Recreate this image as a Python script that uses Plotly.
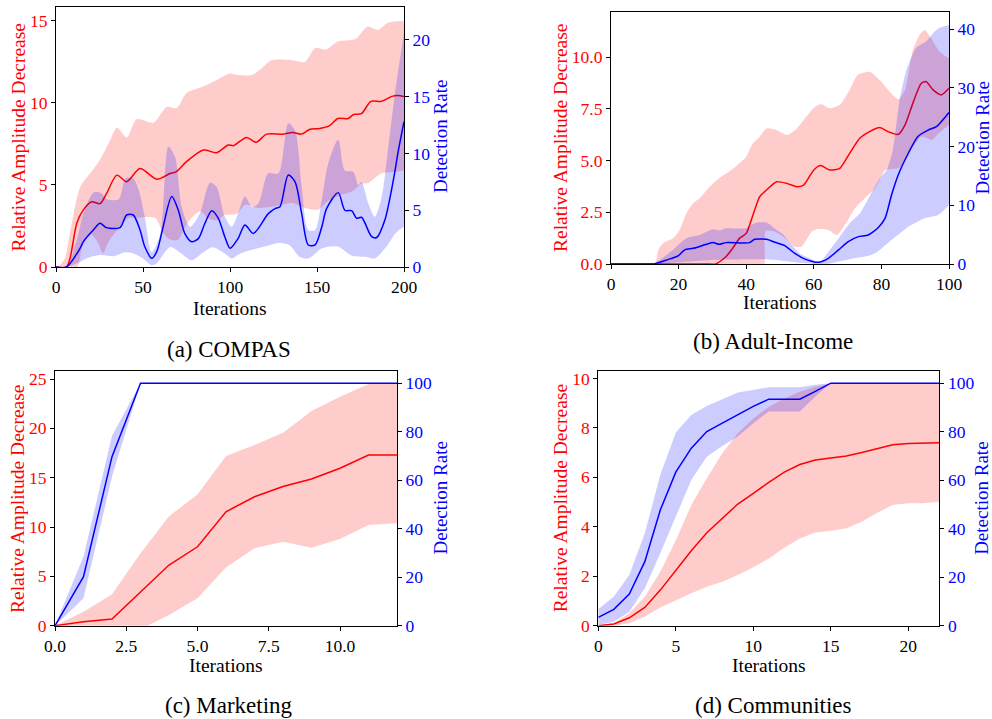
import plotly.graph_objects as go

# ---------------- Panel (a) COMPAS ----------------
a_red_mean_x = [0, 6, 8, 12, 15.7, 20.5, 25.3, 29, 35, 40.6, 48.3, 57.9, 65.5, 69, 75, 84.7, 92.3, 99, 102, 109.5, 115, 121, 130.5, 136, 141, 146, 151.6, 157, 162, 168, 171, 175.5, 181, 187, 193, 196.5, 200]
a_red_mean = [0, 0, 0.5, 2.68, 3.48, 3.98, 3.86, 4.47, 5.6, 5.2, 6.0, 5.35, 5.7, 5.8, 6.42, 7.13, 6.97, 7.44, 7.4, 7.9, 7.6, 8.1, 8.1, 8.2, 8.1, 8.4, 8.45, 8.6, 9.05, 9.05, 9.3, 9.35, 10.1, 10.1, 10.4, 10.45, 10.4]
a_red_up_x = [0, 1, 5, 8, 14, 19.5, 25, 31, 35, 40.6, 46.4, 56, 63.6, 69.5, 75, 84.6, 92.4, 100, 104.6, 112.6, 118, 124, 136, 143, 149, 155, 162, 172, 179, 185, 191, 200]
a_red_up = [0, 0, 0.5, 2.07, 4.9, 5.7, 6.5, 7.7, 8.5, 7.9, 9.0, 8.8, 9.75, 9.7, 10.6, 11.0, 11.4, 11.8, 11.7, 11.7, 12.1, 12.6, 12.6, 12.5, 13.35, 13.25, 13.75, 13.9, 14.65, 14.45, 14.9, 15.0]
a_red_lo_x = [0, 12, 15, 20, 24, 27, 30, 34, 38, 42, 47, 52, 57, 61, 65, 70, 74, 78, 83, 87, 92, 97, 104, 108.6, 116, 126, 135.6, 143, 150.6, 156, 164, 170, 176, 179, 187, 195, 200]
a_red_lo = [0, 0, 1.2, 2.0, 1.5, 0.85, 1.5, 2.1, 2.6, 3.0, 3.0, 3.05, 3.0, 2.2, 1.7, 1.65, 2.4, 3.0, 3.4, 3.0, 2.85, 3.17, 3.25, 3.78, 3.6, 3.7, 3.9, 3.6, 3.5, 4.0, 4.4, 4.6, 5.1, 5.1, 5.7, 5.8, 5.9]
a_blue_mean_x = [0, 6, 13.8, 15.7, 21.5, 25.3, 29, 36.8, 40.6, 44.4, 48.3, 51, 55, 57.9, 61.5, 66.5, 70.3, 74, 78, 81.8, 85.6, 89.5, 93.3, 97, 100, 104.6, 108.6, 113.4, 122, 125.9, 128.7, 133.5, 137.4, 141.2, 145, 148.9, 152.7, 155.5, 162.2, 166, 169.9, 172.8, 175.6, 181.4, 184.3, 189, 193.9, 196.7, 200]
a_blue_mean = [0, 0, 1.64, 2.23, 3.26, 3.85, 3.47, 3.47, 4.58, 4.58, 3.26, 1.8, 0.77, 1.35, 3.5, 6.2, 5.0, 2.97, 2.23, 2.5, 3.85, 4.96, 4.29, 2.67, 1.65, 2.5, 3.7, 2.96, 4.7, 5.14, 5.3, 8.1, 7.5, 4.7, 1.94, 1.94, 3.5, 5.14, 6.55, 5.0, 4.96, 4.29, 4.38, 2.67, 2.6, 4.14, 7.67, 10.2, 12.8]
a_blue_up_x = [0, 6, 11.9, 15.7, 21.5, 26, 29, 36, 40, 44.4, 47.5, 51, 55, 60, 64.6, 68.4, 72.2, 77, 82.6, 88.5, 92.3, 97, 101, 104.6, 108.6, 112.6, 116.3, 122, 127.8, 133.5, 137.4, 141.2, 145, 148.9, 152.7, 156.5, 162.2, 166, 170.9, 173.7, 175.6, 179.5, 183.3, 187.2, 191, 194.8, 200]
a_blue_up = [0, 0, 2.38, 4.7, 6.55, 6.5, 6.0, 5.96, 7.8, 7.8, 6.8, 4.43, 1.3, 2.9, 10.6, 9.7, 5.3, 3.55, 4.7, 7.43, 7.05, 4.43, 3.55, 4.7, 6.2, 5.3, 5.6, 8.25, 8.25, 12.66, 12.0, 7.07, 3.26, 3.26, 5.9, 9.13, 11.2, 8.5, 8.37, 7.2, 7.5, 5.6, 4.43, 6.2, 10.6, 15.3, 20.6]
a_blue_lo_x = [0, 6, 12, 17.6, 25, 33, 39.6, 44.4, 50, 55, 57.8, 65.5, 71, 78, 84.6, 90, 97, 101, 106, 112, 120, 127, 134, 140, 145, 153, 162, 170, 178, 183, 190, 195, 200]
a_blue_lo = [0, 0, 0.3, 0.75, 1.05, 0.95, 1.3, 1.2, 0.75, 0.15, 0.3, 1.75, 1.3, 0.6, 1.3, 1.75, 1.2, 0.75, 1.2, 1.5, 1.8, 2.1, 1.94, 0.9, 0.75, 1.65, 1.8, 1.0, 0.9, 0.75, 1.8, 2.96, 3.55]

# ---------------- Panel (b) Adult-Income ----------------
b_red_mean_x = [0, 10, 20, 28, 31, 34, 36, 38, 40, 42, 44, 46, 49, 52, 55, 57, 60, 62, 64.7, 67.7, 70.6, 73.6, 76.5, 79.5, 82, 85, 87, 89.3, 91.8, 93.3, 95.3, 97.7, 100]
b_red_mean = [0, 0, 0, 0, 0, 0.35, 0.76, 1.24, 1.48, 2.37, 3.26, 3.58, 3.98, 3.9, 3.74, 3.82, 4.55, 4.76, 4.55, 4.63, 5.35, 6.08, 6.4, 6.6, 6.4, 6.27, 6.73, 7.77, 8.74, 8.82, 8.42, 8.18, 8.5]
b_red_up_x = [0, 5, 10, 13, 14, 15.4, 18.3, 20.3, 22.3, 24.3, 26.2, 29.2, 32, 35, 38, 40, 42, 44, 46, 49, 52, 55, 57.8, 60.3, 62.2, 64.7, 67.7, 70.6, 73, 76.5, 79.5, 82, 85, 87, 89.3, 91.3, 92.8, 94.8, 97.2, 100]
b_red_up = [0, 0, 0, 0, 0.68, 1.0, 1.24, 1.65, 2.45, 2.94, 3.18, 3.74, 4.15, 4.47, 4.87, 5.19, 5.84, 6.16, 6.56, 6.48, 6.24, 6.56, 7.13, 7.6, 7.74, 7.53, 7.7, 8.42, 9.15, 9.3, 8.9, 8.42, 7.97, 8.42, 10.35, 11.08, 11.32, 10.9, 10.27, 9.95]
b_red_lo_x = [0, 20, 40, 45, 45.4, 45.8, 48.5, 51.5, 54.4, 56.4, 59.4, 61.3, 64.3, 66.8, 69.2, 72.2, 75.1, 78.1, 81.1, 83, 85, 87, 89, 91.9, 94.9, 96.8, 100]
b_red_lo = [0, 0, 0, 0, 0, 1.6, 1.56, 1.26, 0.84, 0.84, 1.56, 1.69, 1.64, 1.4, 1.89, 2.7, 3.18, 3.66, 4.55, 4.6, 4.63, 4.95, 5.6, 6.16, 6.0, 6.3, 6.72]
b_blue_mean_x = [0, 6, 10, 12.5, 16.4, 19.8, 21.8, 24.3, 28.2, 30.2, 32, 34, 41, 42.5, 46, 48.5, 51.5, 54.4, 57.4, 61.3, 64.3, 67.3, 70.2, 73.2, 76.1, 79.1, 81.1, 83, 85, 88, 90.8, 93.8, 96.3, 100]
b_blue_mean = [0, 0, 0, 0, 0.68, 1.36, 2.4, 2.67, 3.35, 3.64, 3.35, 3.64, 3.64, 4.2, 4.2, 3.7, 3.1, 1.8, 0.83, 0.28, 0.97, 2.4, 3.8, 4.66, 4.94, 6.2, 7.8, 11.75, 15.2, 18.9, 21.7, 22.8, 23.4, 25.8]
b_blue_up_x = [0, 6, 10, 12.5, 18.3, 22.3, 26.2, 30.2, 32, 34, 40, 43, 46, 49, 51, 53, 55.8, 58.8, 61.7, 64.7, 67.7, 70.6, 73.6, 76.5, 79.5, 81.5, 83.4, 85.4, 87.4, 90.3, 93.3, 95.3, 97.2, 100]
b_blue_up = [0, 0, 0, 0, 2.4, 4.4, 4.94, 5.9, 5.7, 6.08, 6.08, 7.05, 7.05, 5.8, 5.0, 3.6, 1.8, 0.97, 0.3, 2.4, 4.66, 6.93, 8.6, 11.5, 14.6, 15.9, 19.4, 28, 33, 36.8, 37.9, 39.3, 40.2, 40.7]
b_blue_lo_x = [0, 6, 10, 12.5, 20, 30, 45, 50, 56, 60, 64, 68, 72, 75.5, 78.1, 83, 88, 92.8, 96.8, 100]
b_blue_lo = [0, 0, 0, 0, 0.3, 0.7, 0.8, 0.6, 0.2, 0, 0, 0.5, 1.0, 1.3, 1.82, 4.1, 6.35, 7.8, 8.35, 10.05]

# ---------------- Panel (c) Marketing ----------------
c_x = [0, 1, 2, 3, 4, 5, 6, 7, 8, 9, 10, 11, 12]
c_red_mean = [0, 0.4, 0.68, 3.45, 6.15, 8.0, 11.55, 13.07, 14.1, 14.86, 15.95, 17.3, 17.3]
c_red_up = [0, 1.42, 3.18, 7.33, 11.1, 13.3, 17.2, 18.3, 19.56, 21.75, 23.2, 24.5, 24.5]
c_red_lo = [0, -0.6, -1.8, -0.4, 1.08, 2.77, 5.9, 7.84, 8.5, 7.9, 8.78, 10.2, 10.37]
c_blue_mean = [0, 20.2, 69.7, 100, 100, 100, 100, 100, 100, 100, 100, 100, 100]
c_blue_up = [0, 28.5, 78.3, 100, 100, 100, 100, 100, 100, 100, 100, 100, 100]
c_blue_lo = [0, 11.3, 61.5, 100, 100, 100, 100, 100, 100, 100, 100, 100, 100]

# ---------------- Panel (d) Communities ----------------
d_x = list(range(23))
d_red_mean = [0, 0.07, 0.32, 0.74, 1.44, 2.22, 3.03, 3.76, 4.34, 4.92, 5.35, 5.8, 6.21, 6.52, 6.7, 6.77, 6.86, 7.0, 7.17, 7.32, 7.37, 7.37, 7.4]
d_red_up = [0, 0.1, 0.5, 1.17, 2.18, 3.46, 4.88, 5.96, 6.97, 7.78, 8.38, 8.85, 9.19, 9.46, 9.66, 9.78, 9.78, 9.78, 9.78, 9.78, 9.78, 9.78, 9.78]
d_red_lo = [0, 0, 0.1, 0.36, 0.74, 1.04, 1.31, 1.58, 1.78, 2.05, 2.36, 2.72, 3.15, 3.53, 3.77, 3.84, 3.94, 4.2, 4.57, 4.88, 4.95, 4.95, 5.01]
d_blue_mean = [3.44, 6.74, 13.07, 26.4, 47.7, 63.3, 73.2, 80.05, 83.5, 86.9, 90.4, 93.4, 93.4, 93.4, 96.6, 100, 100, 100, 100, 100, 100, 100, 100]
d_blue_up = [6.74, 12.0, 20.9, 38.1, 62.2, 79.6, 86.9, 90.6, 93.4, 96.1, 97.2, 98.3, 98.3, 98.3, 99.3, 100, 100, 100, 100, 100, 100, 100, 100]
d_blue_lo = [0.3, 1.65, 5.8, 15.4, 29.85, 45.0, 60.1, 69.7, 74.1, 78.0, 83.5, 88.3, 88.3, 88.3, 94.5, 100, 100, 100, 100, 100, 100, 100, 100]

captions = ["(a) COMPAS", "(b) Adult-Income", "(c) Marketing", "(d) Communities"]
left_title = "Relative Amplitude Decrease"
right_title = "Detection Rate"
x_title = "Iterations"

RED = "#ff0000"
BLUE = "#0000ff"
RED_FILL = "rgba(255,0,0,0.2)"
BLUE_FILL = "rgba(0,0,255,0.2)"
FONT = "Liberation Serif"

W, H = 992, 719
fig = go.Figure()


def add_panel(xa, yl, yr, red, blue, shape, smooth):
    (rmx, rm), (rux, ru), (rlx, rl) = red
    (bmx, bm), (bux, bu), (blx, bl) = blue
    line_kw = dict(shape=shape)
    if shape == "spline":
        line_kw["smoothing"] = smooth
    fig.add_trace(go.Scatter(x=rlx, y=rl, xaxis=xa, yaxis=yl, mode="lines",
                             line=dict(width=0, **line_kw), hoverinfo="skip", showlegend=False))
    fig.add_trace(go.Scatter(x=rux, y=ru, xaxis=xa, yaxis=yl, mode="lines", fill="tonexty",
                             fillcolor=RED_FILL, line=dict(width=0, **line_kw),
                             hoverinfo="skip", showlegend=False))
    fig.add_trace(go.Scatter(x=rmx, y=rm, xaxis=xa, yaxis=yl, mode="lines",
                             line=dict(color=RED, width=1.5, **line_kw), showlegend=False))
    fig.add_trace(go.Scatter(x=blx, y=bl, xaxis=xa, yaxis=yr, mode="lines",
                             line=dict(width=0, **line_kw), hoverinfo="skip", showlegend=False))
    fig.add_trace(go.Scatter(x=bux, y=bu, xaxis=xa, yaxis=yr, mode="lines", fill="tonexty",
                             fillcolor=BLUE_FILL, line=dict(width=0, **line_kw),
                             hoverinfo="skip", showlegend=False))
    fig.add_trace(go.Scatter(x=bmx, y=bm, xaxis=xa, yaxis=yr, mode="lines",
                             line=dict(color=BLUE, width=1.5, **line_kw), showlegend=False))


add_panel("x", "y", "y2",
          [(a_red_mean_x, a_red_mean), (a_red_up_x, a_red_up), (a_red_lo_x, a_red_lo)],
          [(a_blue_mean_x, a_blue_mean), (a_blue_up_x, a_blue_up), (a_blue_lo_x, a_blue_lo)],
          "spline", 0.8)
add_panel("x2", "y3", "y4",
          [(b_red_mean_x, b_red_mean), (b_red_up_x, b_red_up), (b_red_lo_x, b_red_lo)],
          [(b_blue_mean_x, b_blue_mean), (b_blue_up_x, b_blue_up), (b_blue_lo_x, b_blue_lo)],
          "spline", 0.6)
add_panel("x3", "y5", "y6",
          [(c_x, c_red_mean), (c_x, c_red_up), (c_x, c_red_lo)],
          [(c_x, c_blue_mean), (c_x, c_blue_up), (c_x, c_blue_lo)],
          "linear", 0)
add_panel("x4", "y7", "y8",
          [(d_x, d_red_mean), (d_x, d_red_up), (d_x, d_red_lo)],
          [(d_x, d_blue_mean), (d_x, d_blue_up), (d_x, d_blue_lo)],
          "linear", 0)

# plot boxes in pixels: left, right, top, bottom
boxes = [(56, 404, 7, 267), (611, 949, 12, 264), (55, 397, 371.3, 625.7), (598.3, 939.3, 371, 625.7)]
xranges = [[0, 200], [0, 100], [0, 12], [0, 22]]
xticks = [[0, 50, 100, 150, 200], [0, 20, 40, 60, 80, 100], [0, 2.5, 5, 7.5, 10], [0, 5, 10, 15, 20]]
xticktext = [["0", "50", "100", "150", "200"], ["0", "20", "40", "60", "80", "100"],
             ["0.0", "2.5", "5.0", "7.5", "10.0"], ["0", "5", "10", "15", "20"]]
ylranges = [[0, 15.85], [0, 12.19], [0, 25.78], [0, 10.3]]
ylticks = [[0, 5, 10, 15], [0, 2.5, 5, 7.5, 10], [0, 5, 10, 15, 20, 25], [0, 2, 4, 6, 8, 10]]
ylticktext = [["0", "5", "10", "15"], ["0.0", "2.5", "5.0", "7.5", "10.0"],
              ["0", "5", "10", "15", "20", "25"], ["0", "2", "4", "6", "8", "10"]]
yrranges = [[0, 22.9], [0, 42.9], [0, 104.9], [0, 105]]
yrticks = [[0, 5, 10, 15, 20], [0, 10, 20, 30, 40], [0, 20, 40, 60, 80, 100], [0, 20, 40, 60, 80, 100]]

layout = dict(width=W, height=H, margin=dict(l=0, r=0, t=0, b=0, autoexpand=False),
              plot_bgcolor="white", paper_bgcolor="white", showlegend=False,
              font=dict(family=FONT, size=18, color="black"))
annotations = []
tick_common = dict(ticks="outside", ticklen=4, tickwidth=1, tickcolor="black", automargin=False,
                   showgrid=False, zeroline=False, showline=True, linecolor="black", linewidth=1.2)
TICK_SIZE = 17.5

caption_pos = [(229, 349), (773, 341), (229, 705), (773, 705)]
xtitle_y = [308, 303, 665, 665]
ltitle_x = [17.5, 560, 17.5, 560]
rtitle_x = [440, 981.5, 440, 981.5]

for i, (l, r, t, b) in enumerate(boxes):
    xs = "" if i == 0 else str(i + 1)
    yl_name = "yaxis" if i == 0 else "yaxis" + str(2 * i + 1)
    yr_name = "yaxis" + str(2 * i + 2)
    yl_ref = "y" if i == 0 else "y" + str(2 * i + 1)
    xref = "x" + xs
    dom_x = [l / W, r / W]
    dom_y = [1 - b / H, 1 - t / H]
    layout["xaxis" + xs] = dict(domain=dom_x, anchor=yl_ref, range=xranges[i], mirror=True,
                                tickmode="array", tickvals=xticks[i], ticktext=xticktext[i],
                                tickfont=dict(family=FONT, size=TICK_SIZE, color="black"), **tick_common)
    layout[yl_name] = dict(domain=dom_y, anchor=xref, range=ylranges[i], mirror=True,
                           tickmode="array", tickvals=ylticks[i], ticktext=ylticktext[i],
                           tickfont=dict(family=FONT, size=TICK_SIZE, color=RED), **tick_common)
    layout[yr_name] = dict(domain=dom_y, anchor=xref, overlaying=yl_ref, side="right",
                           range=yrranges[i], tickmode="array", tickvals=yrticks[i],
                           ticktext=[str(v) for v in yrticks[i]],
                           tickfont=dict(family=FONT, size=TICK_SIZE, color=BLUE), **tick_common)
    cy = (t + b) / 2
    annotations.append(dict(text=left_title, x=ltitle_x[i] / W, y=1 - cy / H, xref="paper", yref="paper",
                            textangle=-90, showarrow=False, xanchor="center", yanchor="middle",
                            font=dict(family=FONT, size=19.5, color=RED)))
    annotations.append(dict(text=right_title, x=rtitle_x[i] / W, y=1 - cy / H, xref="paper", yref="paper",
                            textangle=-90, showarrow=False, xanchor="center", yanchor="middle",
                            font=dict(family=FONT, size=19, color=BLUE)))
    annotations.append(dict(text=x_title, x=((l + r) / 2) / W, y=1 - xtitle_y[i] / H, xref="paper", yref="paper",
                            showarrow=False, xanchor="center", yanchor="middle",
                            font=dict(family=FONT, size=19.5, color="black")))
    annotations.append(dict(text=captions[i], x=caption_pos[i][0] / W, y=1 - caption_pos[i][1] / H,
                            xref="paper", yref="paper", showarrow=False, xanchor="center", yanchor="middle",
                            font=dict(family=FONT, size=23, color="black")))

layout["annotations"] = annotations
fig.update_layout(**layout)
fig.write_html("out.html")
